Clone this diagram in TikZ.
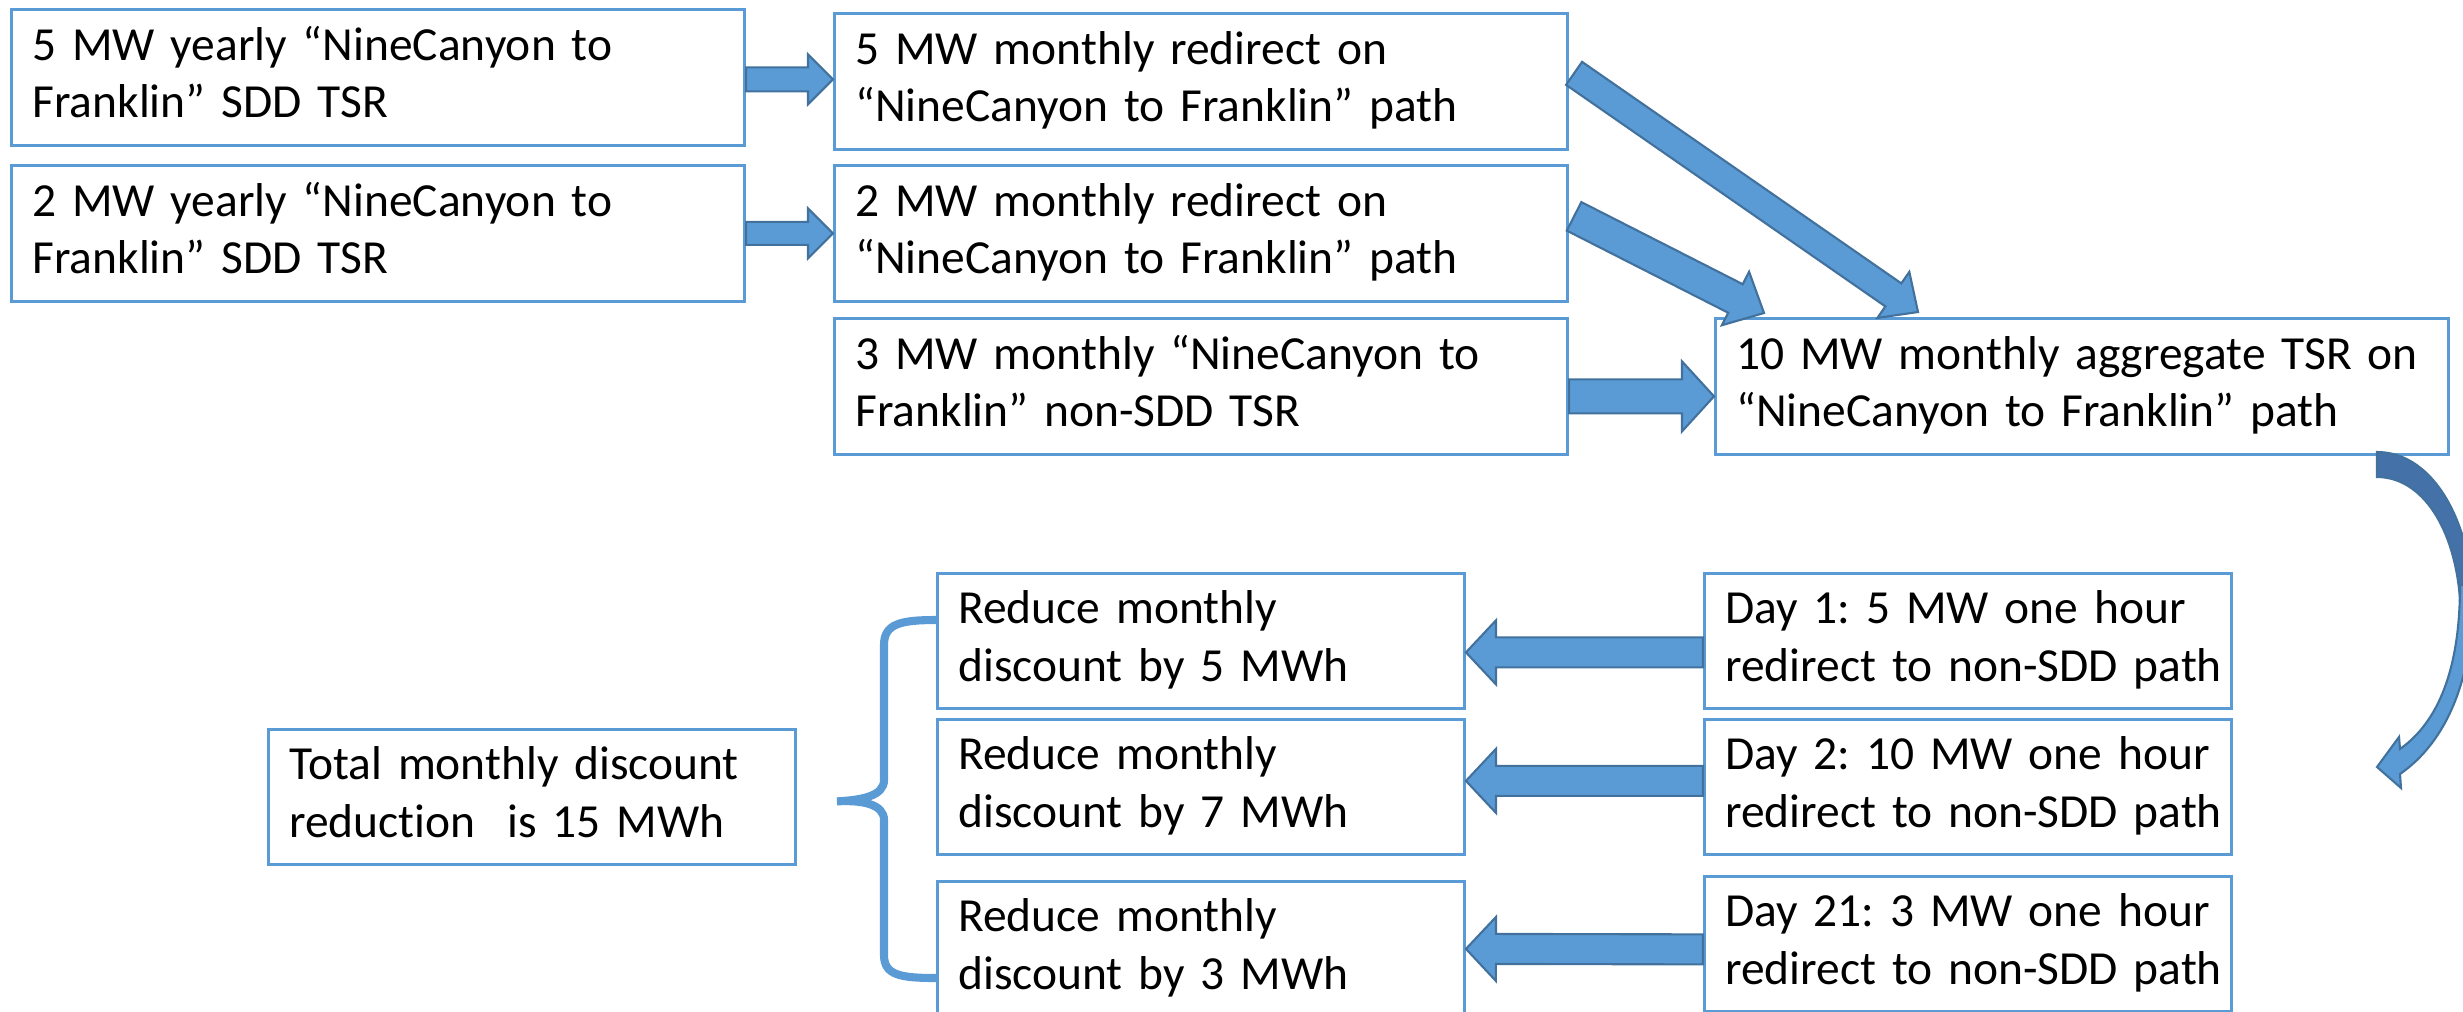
\documentclass[tikz,border=0pt]{standalone}
\usepackage{fontspec}
\setmainfont{Carlito}[Ligatures=NoCommon]
\usetikzlibrary{calc}
\definecolor{boxblue}{HTML}{5B9BD5}
\definecolor{arrfill}{HTML}{5B9BD5}
\definecolor{arrline}{HTML}{41719C}
\definecolor{arrdark}{HTML}{4472A8}
\frenchspacing
\newcommand\blockarr[5]{%
  \coordinate (ba-a) at #1;
  \coordinate (ba-b) at #2;
  \coordinate (ba-h) at ($(ba-b)!#5!(ba-a)$);
  \filldraw[barrow] ($(ba-a)!#3!90:(ba-b)$) -- ($(ba-h)!#3!90:(ba-b)$) -- ($(ba-h)!#4!90:(ba-b)$) -- (ba-b) -- ($(ba-h)!#4!-90:(ba-b)$) -- ($(ba-h)!#3!-90:(ba-b)$) -- ($(ba-a)!#3!-90:(ba-b)$) -- cycle;}
\begin{document}
\begin{tikzpicture}[x=0.01cm,y=-0.01cm,
  box/.style={draw=boxblue,line width=0.75pt,fill=white,anchor=north west,inner xsep=0.21cm,inner ysep=0pt,align=left,font=\fontsize{13.5pt}{16.4pt}\selectfont\frenchspacing},
  wide/.style={box,text width=6.91cm,minimum height=1.36cm},
  narrow/.style={box,text width=4.85cm,minimum height=1.35cm},
  barrow/.style={fill=arrfill,draw=arrline,line width=0.6pt,line join=miter},
  bracestyle/.style={draw=boxblue,line width=2.3pt}]
\useasboundingbox (0,0) rectangle (2463,1011);
\clip (0,0) rectangle (2463,1011);
% top boxes
\node[wide] (A1) at (10,8) {\mbox{\strut 5 MW yearly “NineCanyon to}\\\mbox{Franklin” SDD TSR\strut}};
\node[wide] (A2) at (10,164) {\mbox{\strut 2 MW yearly “NineCanyon to}\\\mbox{Franklin” SDD TSR\strut}};
\node[wide] (B1) at (833,12) {\mbox{\strut 5 MW monthly redirect on}\\\mbox{“NineCanyon to Franklin” path\strut}};
\node[wide] (B2) at (833,164) {\mbox{\strut 2 MW monthly redirect on}\\\mbox{“NineCanyon to Franklin” path\strut}};
\node[wide] (B3) at (833,317) {\mbox{\strut 3 MW monthly “NineCanyon to}\\\mbox{Franklin” non-SDD TSR\strut}};
\node[wide] (C) at (1714,317) {\mbox{\strut 10 MW monthly aggregate TSR on}\\\mbox{“NineCanyon to Franklin” path\strut}};
% bottom boxes
\node[narrow] (R1) at (936,572) {\mbox{\strut Reduce monthly}\\\mbox{discount by 5 MWh\strut}};
\node[narrow] (R2) at (936,718) {\mbox{\strut Reduce monthly}\\\mbox{discount by 7 MWh\strut}};
\node[narrow] (R3) at (936,880) {\mbox{\strut Reduce monthly}\\\mbox{discount by 3 MWh\strut}};
\node[narrow] (D1) at (1703,572) {\mbox{\strut Day 1: 5 MW one hour}\\\mbox{redirect to non-SDD path\strut}};
\node[narrow] (D2) at (1703,718) {\mbox{\strut Day 2: 10 MW one hour}\\\mbox{redirect to non-SDD path\strut}};
\node[narrow] (D3) at (1703,875) {\mbox{\strut Day 21: 3 MW one hour}\\\mbox{redirect to non-SDD path\strut}};
\node[narrow] (T) at (267,728) {\mbox{\strut Total monthly discount}\\\mbox{reduction\ \ is 15 MWh\strut}};
% block arrows
\blockarr{($(A1.east)+(0,2)$)}{($(B1.west)+(0,-2)$)}{0.12cm}{0.25cm}{0.25cm}
\blockarr{(A2.east)}{(B2.west)}{0.115cm}{0.25cm}{0.25cm}
\blockarr{($(B3.east)+(0,10)$)}{($(C.west)+(0,10)$)}{0.17cm}{0.35cm}{0.32cm}
\coordinate (t1) at ($(B1.east)+(5,-8)$);
\coordinate (h1) at ($(C.north west)+(204,-5)$);
\coordinate (t2) at ($(B2.east)+(5,-17)$);
\coordinate (h2) at ($(C.north west)+(50,-4)$);
\blockarr{(t1)}{(h1)}{0.14cm}{0.28cm}{0.30cm}
\blockarr{(t2)}{(h2)}{0.16cm}{0.30cm}{0.32cm}
\blockarr{($(D1.west)+(0,11.5)$)}{($(R1.east)+(0,11.5)$)}{0.15cm}{0.32cm}{0.30cm}
\blockarr{($(D2.west)+(0,-6)$)}{($(R2.east)+(0,-6)$)}{0.15cm}{0.32cm}{0.30cm}
\blockarr{($(D3.west)+(0,5.5)$)}{(R3.east)}{0.15cm}{0.32cm}{0.30cm}
% brace
\coordinate (bt) at ($(R1.north west)+(0,48)$);
\coordinate (bb) at ($(R3.north west)+(0,98)$);
\coordinate (bm) at ($(T.east)+(40,4.5)$);
\draw[bracestyle] (bt) .. controls (900,620) and (884,624) .. (884,645) -- (884,780)
  .. controls (884,796) and (862,800) .. (bm)
  .. controls (862,800) and (884,804) .. (884,820) -- (884,955)
  .. controls (884,975) and (900,978) .. (bb);
% curved arrow
\filldraw[fill=arrdark,draw=arrline,line width=0.6pt] (2377,452) .. controls (2428,452) and (2468,510) .. (2474,600)
  -- (2460,600) .. controls (2455,528) and (2422,477) .. (2377,477) -- cycle;
\filldraw[barrow] (2474,585) .. controls (2474,680) and (2446,742) .. (2400,774)
  -- (2401,788) -- (2377,767) -- (2399,737) -- (2400,749)
  .. controls (2438,722) and (2460,670) .. (2460,585) -- cycle;
\end{tikzpicture}
\end{document}
